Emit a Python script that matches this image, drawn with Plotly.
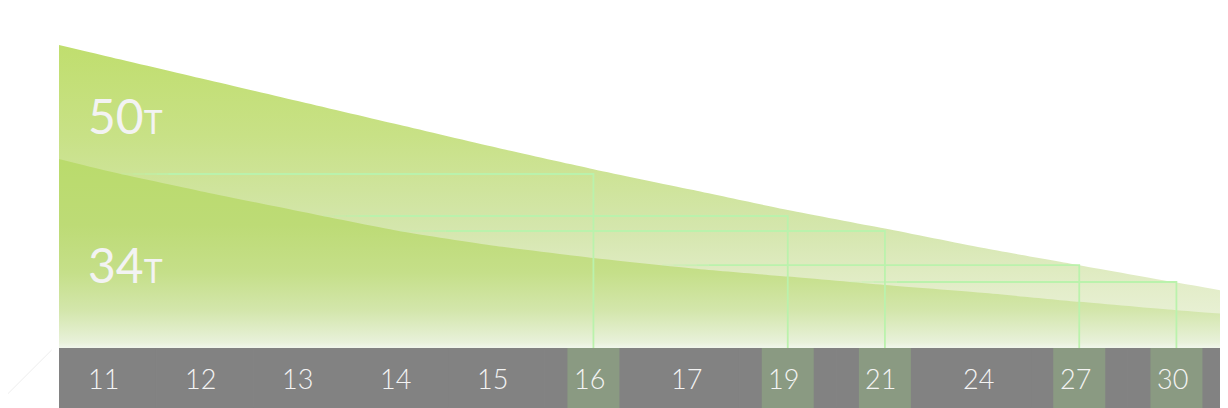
import numpy as np
import plotly.graph_objects as go

# day labels along the bottom band, and which of them are highlighted
days = ["11", "12", "13", "14", "15", "16", "17", "19", "21", "24", "27", "30"]
highlighted = ["16", "19", "21", "27", "30"]

# curves: left edge, each day, right edge
sample_x = [-0.5, 0, 1, 2, 3, 4, 5, 6, 7, 8, 9, 10, 11, 11.5]
upper_vals = [50.5, 48.6, 44.8, 41.0, 37.2, 33.4, 29.8, 26.4, 23.0, 19.9, 16.7, 13.8, 10.9, 9.5]
lower_vals = [31.5, 29.5, 26.0, 22.7, 19.5, 17.0, 15.0, 13.3, 11.9, 10.5, 9.2, 7.7, 6.3, 5.7]

# level marked for each highlighted day
target_vals = [29.0, 22.0, 19.5, 13.8, 11.0]

curve_labels = ["50", "34"]
curve_label_y = [38.8, 14.0]
unit = "T"

band_gray = "#828282"
band_hi = "#8a9a82"
line_col = "rgba(186,242,172,{})"

fig = go.Figure()

# upper area (50T)
fig.add_trace(go.Scatter(
    x=sample_x, y=upper_vals, mode="lines", line=dict(width=0, shape="spline", smoothing=0.6),
    fill="tozeroy",
    fillgradient=dict(type="vertical", start=0, stop=50.5,
                      colorscale=[[0, "#eef4e2"], [0.2, "#e3edc9"], [0.4, "#d4e6ac"],
                                  [0.7, "#c8e186"], [1, "#c0de6e"]]),
    hoverinfo="skip", showlegend=False))

# lower area (34T)
fig.add_trace(go.Scatter(
    x=sample_x, y=lower_vals, mode="lines", line=dict(width=0, shape="spline", smoothing=0.6),
    fill="tozeroy",
    fillgradient=dict(type="vertical", start=0, stop=31.5,
                      colorscale=[[0, "#f1f7ec"], [0.03, "#e8f1da"], [0.2, "#d3e6ab"],
                                  [0.4, "#c5df89"], [0.65, "#bddb76"], [1, "#badb6c"]]),
    hoverinfo="skip", showlegend=False))

# target lines: start where the lower curve crosses the level, fade in, then drop to the band
fade_steps = [0.2, 0.4, 0.6, 0.8]
fade_len = 0.12
for day, val in zip(highlighted, target_vals):
    xi = days.index(day)
    start = float(np.interp(val, lower_vals[::-1], sample_x[::-1]))
    for k, op in enumerate(fade_steps):
        fig.add_trace(go.Scatter(
            x=[start + k * fade_len, start + (k + 1) * fade_len], y=[val, val], mode="lines",
            line=dict(color=line_col.format(op), width=1.8),
            hoverinfo="skip", showlegend=False))
    fig.add_trace(go.Scatter(
        x=[start + len(fade_steps) * fade_len, xi, xi], y=[val, val, 0], mode="lines",
        line=dict(color=line_col.format(1), width=1.8),
        hoverinfo="skip", showlegend=False))

# bottom band
idx = list(range(len(days)))
fig.add_trace(go.Bar(x=idx, y=[1] * len(days), width=1,
                     marker=dict(color=band_gray, line=dict(color=band_gray, width=1)),
                     xaxis="x2", yaxis="y2", hoverinfo="skip", showlegend=False))
fig.add_trace(go.Bar(x=[days.index(d) for d in highlighted], y=[1] * len(highlighted), width=0.535,
                     marker=dict(color=band_hi, line_width=0),
                     xaxis="x2", yaxis="y2", hoverinfo="skip", showlegend=False))
for i, d in zip(idx, days):
    fig.add_annotation(x=i, y=0.5, xref="x2", yref="y2", text=d, showarrow=False, xshift=-4,
                       font=dict(family="Lato", size=27, color="#f4f4f4", weight=300))

for lab, yv in zip(curve_labels, curve_label_y):
    fig.add_annotation(x=0.023, xref="paper", y=yv, yref="y", xanchor="left", yanchor="middle",
                       text=lab + "<span style='font-size:32px'>" + unit + "</span>",
                       showarrow=False, font=dict(family="Lato", size=48, color="#f3f3f3"))

# faint decorative stroke bottom-left
fig.add_shape(type="line", xref="paper", yref="paper", x0=-0.0063, y0=0.145, x1=-0.0506, y1=0.016,
              line=dict(color="#ededed", width=1))

# page body has an 8px margin, so the figure is 8px smaller each way
band_h = 60 / 400
fig.update_layout(
    width=1220, height=400, margin=dict(l=51, r=3, t=0, b=0),
    paper_bgcolor="white", plot_bgcolor="rgba(0,0,0,0)", barmode="overlay",
    xaxis=dict(range=[-0.5, 11.5], visible=False, fixedrange=True),
    yaxis=dict(range=[0, 340 / 6], domain=[band_h, 1], visible=False, fixedrange=True),
    xaxis2=dict(range=[-0.5, 11.5], anchor="y2", visible=False, fixedrange=True),
    yaxis2=dict(range=[0, 1], domain=[0, band_h], visible=False, fixedrange=True),
)

fig.write_html("out.html")
